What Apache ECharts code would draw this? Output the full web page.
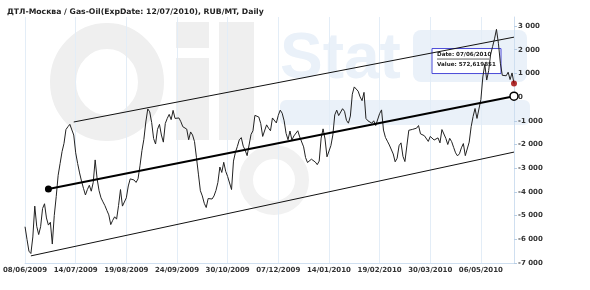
<!DOCTYPE html>
<html>
<head>
<meta charset="utf-8">
<script src="https://cdn.jsdelivr.net/npm/echarts@6/dist/echarts.min.js"></script>
<style>html,body{margin:0;padding:0;background:#fff}#c{width:590px;height:290px}</style>
</head>
<body>
<div id="c"></div>
<script>
var title = 'ДТЛ-Москва / Gas-Oil(ExpDate: 12/07/2010), RUB/MT, Daily';
var tickLabels = ['08/06/2009','14/07/2009','19/08/2009','24/09/2009','30/10/2009','07/12/2009','14/01/2010','19/02/2010','30/03/2010','06/05/2010'];
var lastDate = '07/06/2010';
var values = [
-5470,-6000,-6500,-6600,-5900,-4600,-5450,-5800,-5470,-4700,
-4500,-5100,-5400,-5280,-6200,-5000,-4200,-3300,-2800,-2300,
-1950,-1370,-1250,-1150,-1080,-1600,-2350,-2800,-3200,-3550,
-3850,-4130,-3900,-3720,-3970,-3600,-2650,-3450,-3950,-4250,
-4420,-4580,-4780,-4970,-5380,-5200,-5050,-5150,-4580,-3900,
-4600,-4650,-4250,-3750,-3450,-3370,-3500,-3600,-3450,-2900,
-2260,-1780,-1050,-500,-620,-1070,-1750,-1980,-1360,-1150,
-1600,-1900,-1110,-900,-730,-950,-560,-900,-970,-880,
-1040,-1250,-1320,-1350,-1800,-1470,-1600,-1880,-2550,-3250,
-3950,-4170,-4480,-4660,-4280,-4200,-4300,-4170,-3940,-3600,
-2950,-3180,-2750,-3130,-3350,-3430,-3900,-2700,-2330,-2080,
-1800,-1710,-2070,-2240,-2470,-2400,-1580,-1420,-770,-760,
-840,-1120,-1660,-1600,-1170,-1310,-1420,-880,-940,-1090,
-770,-550,-680,-1000,-1530,-1800,-1430,-1810,-1640,-1680,
-1420,-1680,-1680,-2100,-2550,-2760,-2700,-2620,-2600,-2740,
-2850,-2700,-1730,-1340,-1770,-2520,-2450,-2050,-1600,-750,
-550,-780,-800,-490,-600,-980,-1100,-800,120,430,
420,250,10,-150,200,-900,-1000,-970,-1100,-1000,
-1200,-1250,-700,-540,-1390,-1700,-1860,-2020,-2080,-2400,
-2730,-2580,-2050,-1930,-2500,-2720,-2060,-1400,-1400,-1360,
-1280,-1310,-1200,-1550,-1630,-1630,-1710,-1870,-1660,-1650,
-1810,-1860,-1720,-1930,-1370,-1320,-1740,-2000,-1740,-1880,
-2120,-2350,-2480,-2390,-2140,-1960,-2470,-2500,-1900,-1250,
-820,-480,-900,-970,-100,850,1380,720,1120,1800,
2130,2460,2860,2270,1430,920,900,900,1050,740,
1020,572.619851
];
var trendMid = [[12,-3880],[251,40]];
var channelUp = [[25,-1050],[251,2530]];
var channelDown = [[3,-6700],[251,-2320]];

var FONT = 'DejaVu Sans';
function fmtY(v){
  var s = Math.abs(v);
  var str = s >= 1000 ? Math.floor(s/1000) + ' ' + String(s%1000).padStart(3,'0') : String(s);
  return (v < 0 ? '-' : '') + str;
}
var chart = echarts.init(document.getElementById('c'), null, {renderer:'canvas'});
var lineData = values.map(function(v,i){return [i,v];});
var lastIdx = values.length - 1;
var option = {
  animation:false,
  title:{text:title,left:2,top:3,textStyle:{fontFamily:FONT,fontSize:7.7,fontWeight:'bold',color:'#222'}},
  grid:{left:22.7,right:76,top:17,bottom:27,containLabel:false},
  xAxis:{type:'value',min:0,max:251,interval:26,
    axisLine:{show:true,onZero:false,lineStyle:{color:'#cfdff0'}},
    axisTick:{show:false},
    splitLine:{show:true,lineStyle:{color:'#e3edf7',width:1}},
    axisLabel:{margin:4,fontFamily:FONT,fontSize:7,fontWeight:'bold',color:'#333',
      showMaxLabel:false,
      formatter:function(v){var k=v/26;return (k===Math.round(k)&&tickLabels[k])?tickLabels[k]:'';}}
  },
  yAxis:{type:'value',position:'right',min:-7000,max:3380,interval:1000,
    axisLine:{show:true,onZero:false,lineStyle:{color:'#cfdff0'}},
    axisTick:{show:true,length:3,lineStyle:{color:'#b8cde3'}},
    splitLine:{show:false},
    axisLabel:{margin:4,fontFamily:FONT,fontSize:7,fontWeight:'bold',color:'#333',showMaxLabel:false,
      formatter:function(v){return v%1000===0?fmtY(v):'';}}
  },
  series:[
    {type:'line',data:channelUp,symbol:'none',lineStyle:{color:'#111',width:1},z:3},
    {type:'line',data:channelDown,symbol:'none',lineStyle:{color:'#111',width:1},z:3},
    {type:'line',data:lineData,symbol:'none',lineStyle:{color:'#222',width:1},z:4},
    {type:'line',z:5,lineStyle:{color:'#000',width:2},symbolSize:7,
      data:[{value:trendMid[0],symbol:'circle',symbolSize:7,itemStyle:{color:'#000'}},
            {value:trendMid[1],symbol:'circle',symbolSize:8,itemStyle:{color:'#fff',borderColor:'#000',borderWidth:1.5}}]},
    {type:'scatter',z:6,data:[[lastIdx,values[lastIdx]]],symbolSize:6,itemStyle:{color:'#a00000'}}
  ]
};
chart.setOption(option);

var p = chart.convertToPixel({gridIndex:0},[lastIdx,values[lastIdx]]);
var wmGray = '#efefef', wmBlue = '#eaf1f9';
var bx = p[0]-82, by = p[1]-35;
chart.setOption({graphic:[
  {type:'group',silent:true,z:-10,zlevel:0,children:[
    {type:'ellipse',shape:{cx:107,cy:82,rx:44,ry:46},style:{fill:'none',stroke:wmGray,lineWidth:26},z:-10},
    {type:'rect',shape:{x:176,y:58,width:33,height:82},style:{fill:wmGray},z:-10},
    {type:'rect',shape:{x:176,y:22,width:33,height:26},style:{fill:wmGray},z:-10},
    {type:'rect',shape:{x:219,y:22,width:35,height:118},style:{fill:wmGray},z:-10},
    {type:'text',x:280,y:28,style:{text:'Stat',font:'bold 64px "Liberation Sans"',fill:wmBlue},z:-10},
    {type:'rect',shape:{x:413,y:30,width:114,height:52,r:8},style:{fill:wmBlue},z:-10},
    {type:'rect',shape:{x:280,y:100,width:250,height:25,r:6},style:{fill:wmBlue},z:-10},
    {type:'circle',shape:{cx:274,cy:180,r:28},style:{fill:'none',stroke:'#f1f1f1',lineWidth:14},z:-10}
  ]},
  {type:'group',z:100,children:[
    {type:'rect',shape:{x:bx,y:by,width:69,height:25},style:{fill:'#fff',stroke:'#4b4bd8',lineWidth:1}},
    {type:'text',x:bx+5,y:by+6.5,style:{text:'Date: '+lastDate,font:'bold 5.6px "DejaVu Sans"',fill:'#222',textVerticalAlign:'middle'}},
    {type:'line',shape:{x1:bx+5,y1:by+10.5,x2:bx+57,y2:by+10.5},style:{stroke:'#222',lineWidth:0.7}},
    {type:'text',x:bx+5,y:by+16.5,style:{text:'Value: '+String(values[lastIdx]).replace('.',','),font:'bold 5.6px "DejaVu Sans"',fill:'#222',textVerticalAlign:'middle'}}
  ]}
]});
</script>
</body>
</html>
